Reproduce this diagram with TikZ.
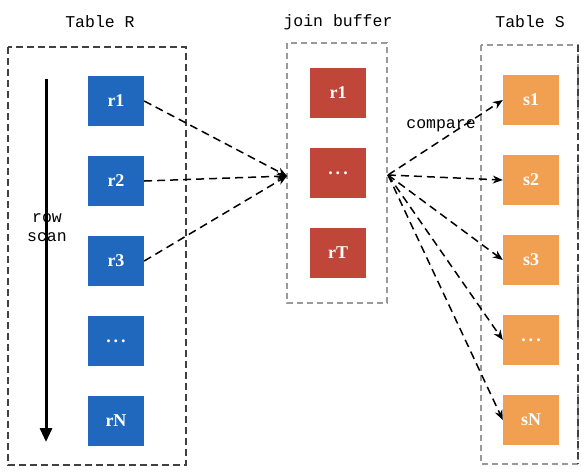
\documentclass[tikz,border=0pt]{standalone}
\usepackage{fontspec}
\setmainfont{Liberation Serif}
\newfontfamily\monofont{Liberation Mono}
\usepackage{tikz}
\usetikzlibrary{shapes,arrows,arrows.meta,positioning,calc}
\usepackage{xcolor}
\definecolor{rblue}{RGB}{31,104,190}
\definecolor{bred}{RGB}{192,70,58}
\definecolor{sorange}{RGB}{240,160,80}

\begin{document}
\begin{tikzpicture}[
    x=1pt, y=-1pt,
    node distance=80pt,
    cell/.style={rectangle, minimum width=56pt, minimum height=50pt, inner sep=0pt, text=white, font=\fontsize{18}{20}\selectfont\bfseries},
    frame/.style={line width=1.4pt, dash pattern=on 7pt off 4pt, draw=black!75},
    lightframe/.style={line width=1.2pt, dash pattern=on 6pt off 4pt, draw=black!40},
    link/.style={-{Stealth[length=10pt, width=8pt]}, line width=1.5pt, dash pattern=on 8pt off 5pt},
    label/.style={font=\monofont\fontsize{16.5}{19}\selectfont}
]
\useasboundingbox (0,0) rectangle (588,471);

% table R
\node[label] (titleR) at (100,22) {Table R};
\draw[frame] (8,47) rectangle (186,465);
\node[cell, fill=rblue] (r1) at (116,101) {r1};
\node[cell, fill=rblue, below of=r1] (r2) {r2};
\node[cell, fill=rblue, below of=r2] (r3) {r3};
\node[cell, fill=rblue, below of=r3] (rdots) {.\,.\,.};
\node[cell, fill=rblue, below of=rdots] (rN) {rN};

\coordinate (scantop) at (46,79);
\coordinate (scanend) at (46,442);
\draw[-{Triangle[length=14pt, width=12pt]}, line width=3pt] (scantop) -- (scanend);
\node[label, align=center] (rowscan) at (47,228) {row\\scan};

% join buffer
\node[label] (titleJ) at (338,22) {join buffer};
\draw[lightframe] (287,43) rectangle (387,303);
\node[cell, fill=bred] (b1) at (338,93) {r1};
\node[cell, fill=bred, below of=b1] (bdots) {.\,.\,.};
\node[cell, fill=bred, below of=bdots] (bT) {rT};

% table S
\node[label] (titleS) at (530,22) {Table S};
\draw[lightframe] (481,45) rectangle (578,464);
\draw[frame] (578,45) -- (578,464);
\node[cell, fill=sorange] (s1) at (531,100) {s1};
\node[cell, fill=sorange, below of=s1] (s2) {s2};
\node[cell, fill=sorange, below of=s2] (s3) {s3};
\node[cell, fill=sorange, below of=s3] (sdots) {.\,.\,.};
\node[cell, fill=sorange, below of=sdots] (sN) {sN};

\coordinate (join) at (287,176);
\coordinate (fan) at (388,175);

\draw[link] (r1.east) -- (join);
\draw[link] (r2.east) -- (join);
\draw[link] (r3.east) -- (join);

\draw[link] (fan) -- (s1.west);
\draw[link] (fan) -- (s2.west);
\draw[link] (fan) -- (s3.west);
\draw[link] (fan) -- (sdots.west);
\draw[link] (fan) -- (sN.west);

\node[label] (compare) at (441,126) {compare};

\end{tikzpicture}
\end{document}
